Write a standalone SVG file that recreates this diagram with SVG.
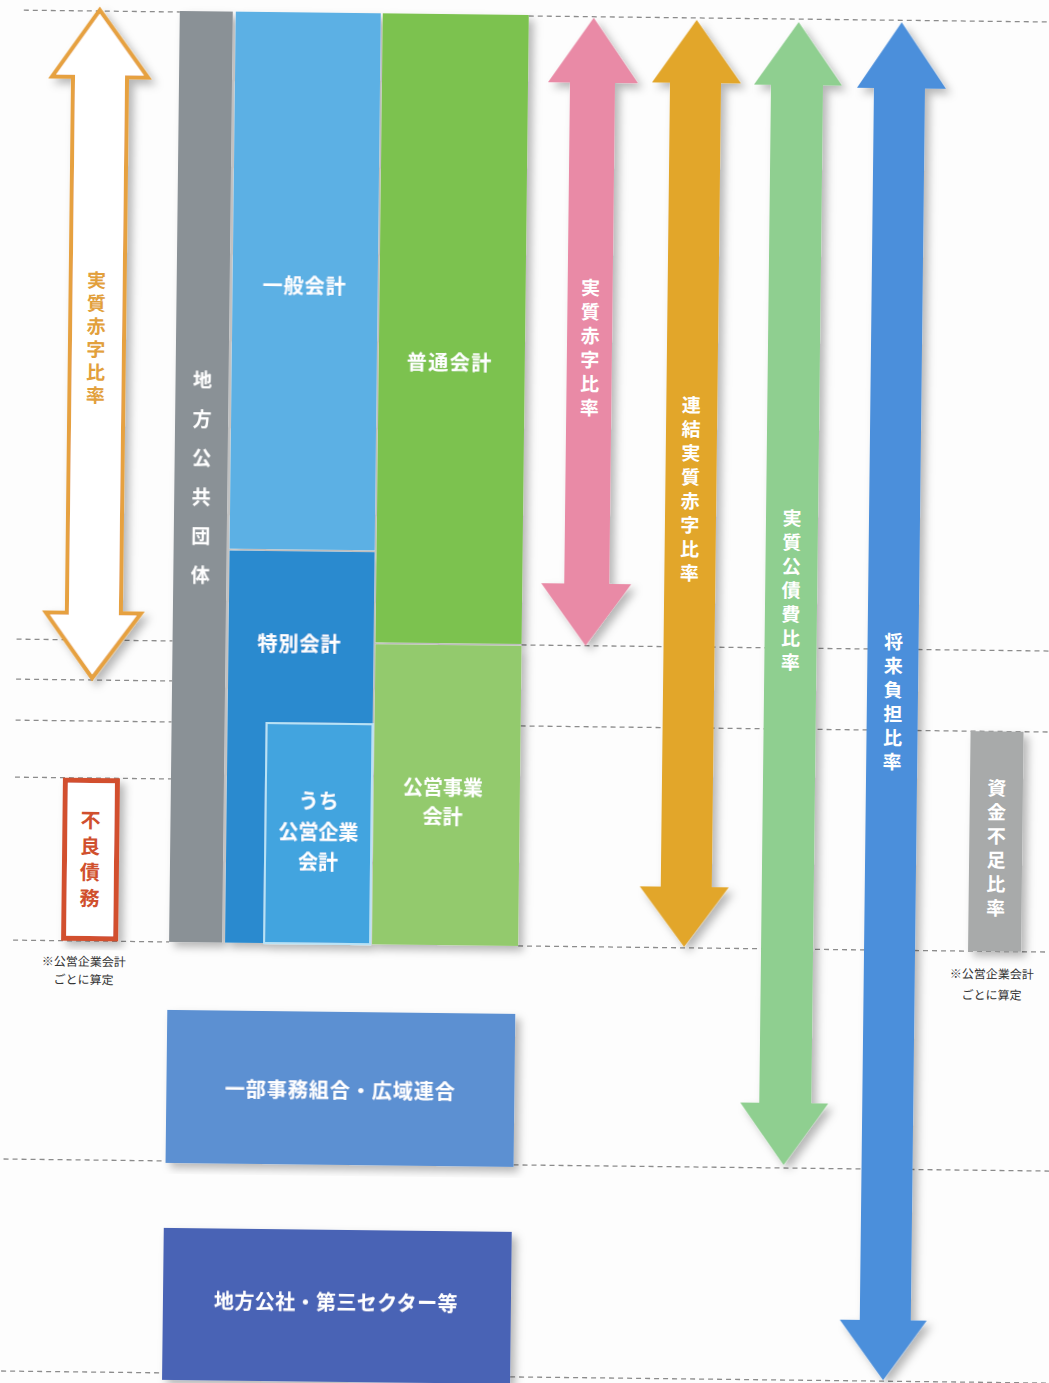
<svg xmlns="http://www.w3.org/2000/svg" width="1049" height="1383" viewBox="0 0 1049 1383">
<defs>
<filter id="sh" x="-30%" y="-5%" width="160%" height="112%">
<feDropShadow dx="5" dy="5" stdDeviation="4" flood-color="#000" flood-opacity="0.28"/>
</filter>
<style>
.lbl{font-family:"Noto Sans CJK JP","Noto Sans CJK SC",sans-serif;font-weight:700;fill:#fff;text-anchor:middle;dominant-baseline:central;font-size:20px}
.lbl tspan{dominant-baseline:central}
.vt{font-size:19px;writing-mode:vertical-rl;text-orientation:upright;letter-spacing:5px}
.note{font-family:"Noto Sans CJK JP","Noto Sans CJK SC",sans-serif;font-size:12px;fill:#333;text-anchor:middle;dominant-baseline:central}
.note tspan{dominant-baseline:central}
.guide{stroke:#8c8c8c;stroke-width:1.3;stroke-dasharray:5 4;fill:none}
</style>
</defs>
<rect width="1049" height="1383" fill="#fdfdfd"/>
<g transform="rotate(0.66 525 690)">
<g id="guides">
<line class="guide" x1="16" y1="16" x2="172" y2="16"/>
<line class="guide" x1="521" y1="16" x2="1070" y2="16"/>
<line class="guide" x1="16" y1="645" x2="172" y2="645"/>
<line class="guide" x1="521" y1="645" x2="1070" y2="645"/>
<line class="guide" x1="16" y1="685" x2="172" y2="685"/>
<line class="guide" x1="16" y1="726" x2="172" y2="726"/>
<line class="guide" x1="521" y1="726" x2="1070" y2="726"/>
<line class="guide" x1="16" y1="783" x2="172" y2="783"/>
<line class="guide" x1="16" y1="946" x2="172" y2="946"/>
<line class="guide" x1="521" y1="946" x2="1070" y2="946"/>
<line class="guide" x1="0" y1="1165" x2="171" y2="1165"/>
<line class="guide" x1="519" y1="1165" x2="1070" y2="1165"/>
<line class="guide" x1="0" y1="1377" x2="170" y2="1377"/>
<line class="guide" x1="518" y1="1377" x2="1070" y2="1377"/>
</g>

<g id="local-government-blocks" filter="url(#sh)">
<g id="node-chihokokyodantai">
<rect x="172" y="15" width="53" height="931" fill="#8a9196"/>
<text class="lbl vt" x="199" y="491" style="letter-spacing:20px">地方公共団体</text>
</g>
<g id="node-ippankaikei">
<rect x="228" y="15" width="145" height="537" fill="#5cb0e4"/>
<text class="lbl" x="300" y="288" letter-spacing="1">一般会計</text>
</g>
<g id="node-tokubetsukaikei">
<rect x="228" y="554" width="145" height="392" fill="#2b8acf"/>
<text class="lbl" x="299" y="645" letter-spacing="1">特別会計</text>
</g>
<g id="node-kouei-kigyou">
<rect x="267" y="726" width="106" height="220" fill="#42a4df" stroke="#b8e2f5" stroke-width="2"/>
<text class="lbl"><tspan x="320" y="802">うち</tspan><tspan x="320" y="833">公営企業</tspan><tspan x="320" y="863">会計</tspan></text>
</g>
<g id="node-futsuukaikei">
<rect x="375" y="15" width="146" height="629" fill="#7cc24f"/>
<text class="lbl" x="446" y="363" letter-spacing="1.5">普通会計</text>
</g>
<g id="node-koueijigyou">
<rect x="375" y="646" width="146" height="300" fill="#93ca6d"/>
<text class="lbl"><tspan x="444" y="787">公営事業</tspan><tspan x="444" y="816">会計</tspan></text>
</g>
</g>

<g id="node-ichibujimukumiai" filter="url(#sh)">
<rect x="171" y="1014" width="348" height="153" fill="#5b90d2"/>
<text class="lbl" x="345" y="1091" font-size="21" letter-spacing="1">一部事務組合・広域連合</text>
</g>
<g id="node-chihokousha" filter="url(#sh)">
<rect x="170" y="1232" width="348" height="152" fill="#4a63b5"/>
<text class="lbl" x="343" y="1303" letter-spacing="0.4">地方公社・第三セクター等</text>
</g>

<g id="node-furyousaimu">
<rect x="66.5" y="785.5" width="52" height="158" fill="#fff" stroke="#d2502e" stroke-width="5" filter="url(#sh)"/>
<text class="lbl vt" x="92" y="867" style="fill:#d0502e;font-size:20px;letter-spacing:6px">不良債務</text>
<text class="note"><tspan x="87" y="965">※公営企業会計</tspan><tspan x="87" y="983">ごとに算定</tspan></text>
</g>

<g id="node-shikinbusoku">
<rect x="971" y="726" width="53" height="220" fill="#a8aaaa" filter="url(#sh)"/>
<text class="lbl vt" x="998" y="845">資金不足比率</text>
<text class="note"><tspan x="995" y="967">※公営企業会計</tspan><tspan x="995" y="988">ごとに算定</tspan></text>
</g>

<g id="connectors">
<g id="arrow-jisshitsu-akaji-outline">
<polygon points="92,15 141,82 120,82 120,618 140,618 92,683 45,618 66,618 66,82 45,82" fill="#fff" stroke="#e6a13f" stroke-width="4" stroke-linejoin="miter" filter="url(#sh)"/>
<text class="lbl vt" x="92" y="344.5" style="fill:#e2a03c;letter-spacing:4px">実質赤字比率</text>
</g>
<g id="arrow-jisshitsu-akaji">
<polygon points="586,17 631,82 608,82 608,583 630,583 585,645 540,583 563,583 563,82 541,82" fill="#e98aa6" filter="url(#sh)"/>
<text class="lbl vt" x="586" y="349.5">実質赤字比率</text>
</g>
<g id="arrow-renketsu">
<polygon points="689,18 734,81 714,81 714,885 731,885 687,945 642,885 663,885 663,81 645,81" fill="#e2a62c" filter="url(#sh)"/>
<text class="lbl vt" x="688" y="489.5">連結実質赤字比率</text>
</g>
<g id="arrow-koushihi">
<polygon points="791,19 835,82 816,82 816,1100 833,1100 789,1162 745,1100 764,1100 764,82 747,82" fill="#8fcf90" filter="url(#sh)"/>
<text class="lbl vt" x="790" y="589.5">実質公債費比率</text>
</g>
<g id="arrow-shouraifutan">
<polygon points="894,18 939,84 918,84 918,1316 934,1316 891,1376 847,1316 867,1316 867,84 850,84" fill="#4c8fdb" filter="url(#sh)"/>
<text class="lbl vt" x="893" y="700">将来負担比率</text>
</g>
</g>
</g>
</svg>
